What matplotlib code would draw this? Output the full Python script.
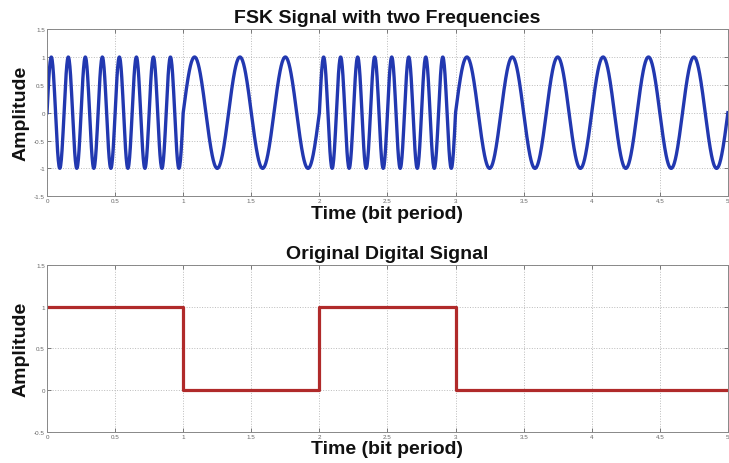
import matplotlib
matplotlib.use("Agg")
import matplotlib.pyplot as plt
import numpy as np

plt.rcParams["font.family"] = ["Liberation Sans", "DejaVu Sans"]

# Bit sequence and the two carrier frequencies (cycles per bit)
bits = [1, 0, 1, 0, 0]
freq_one = 8
freq_zero = 3
samples_per_bit = 400

top_title = "FSK Signal with two Frequencies"
bottom_title = "Original Digital Signal"
x_label = "Time (bit period)"
y_label = "Amplitude"
x_ticks = [0, 0.5, 1, 1.5, 2, 2.5, 3, 3.5, 4, 4.5, 5]
top_yticks = [-1.5, -1, -0.5, 0, 0.5, 1, 1.5]
bottom_yticks = [-0.5, 0, 0.5, 1, 1.5]


def fmt(v):
    return f"{v:g}"


# Build FSK waveform bit by bit
t_parts, s_parts = [], []
for i, b in enumerate(bits):
    t = np.linspace(i, i + 1, samples_per_bit)
    f = freq_one if b else freq_zero
    t_parts.append(t)
    s_parts.append(np.sin(2 * np.pi * f * (t - i)))
t_fsk = np.concatenate(t_parts)
s_fsk = np.concatenate(s_parts)

t_bits = np.arange(len(bits) + 1)
b_step = bits + [bits[-1]]

fig = plt.figure(figsize=(7.29, 4.64), dpi=100)
ax1 = fig.add_axes([0.0645, 0.575, 0.934, 0.36])
ax2 = fig.add_axes([0.0645, 0.067, 0.934, 0.36])

ax1.plot(t_fsk, s_fsk, color="#2238b0", linewidth=2.4)
ax2.step(t_bits, b_step, where="post", color="#b02a2a", linewidth=2.3)

for ax, yt, title in [(ax1, top_yticks, top_title), (ax2, bottom_yticks, bottom_title)]:
    ax.set_xlim(0, 5)
    ax.set_ylim(yt[0], yt[-1])
    ax.set_xticks(x_ticks)
    ax.set_xticklabels([fmt(v) for v in x_ticks])
    ax.set_yticks(yt)
    ax.set_yticklabels([fmt(v) for v in yt])
    ax.tick_params(labelsize=4.5, colors="#666666", length=3, width=0.6,
                   direction="in", top=True, right=True, pad=1.5)
    ax.grid(True, linestyle=":", color="#bbbbbb", linewidth=0.7)
    for sp in ax.spines.values():
        sp.set_color("#888888")
        sp.set_linewidth(0.7)
    ax.set_title(title, fontsize=14, fontweight="bold", pad=5, color="#111111")
    ax.set_xlabel(x_label, fontsize=14, fontweight="bold", labelpad=1, color="#111111")
    ax.set_ylabel(y_label, fontsize=14, fontweight="bold", labelpad=3, color="#111111")

fig.savefig("out.png", dpi=100)
